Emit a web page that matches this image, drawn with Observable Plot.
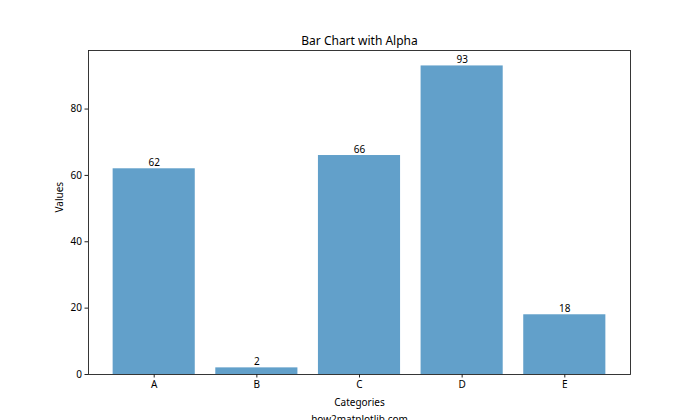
<!DOCTYPE html>
<html>
<head>
<meta charset="utf-8">
<script src="https://cdn.jsdelivr.net/npm/d3@7"></script>
<script src="https://cdn.jsdelivr.net/npm/@observablehq/plot@0.6"></script>
<style>
  html, body { margin: 0; padding: 0; background: white; overflow: hidden; }
</style>
</head>
<body>
<div id="chart"></div>
<script>
const categories = ["A", "B", "C", "D", "E"];
const values = [62, 2, 66, 93, 18];
const yTicks = [0, 20, 40, 60, 80];
const title = "Bar Chart with Alpha";
const xLabel = "Categories";
const yLabel = "Values";
const watermark = "how2matplotlib.com";

const data = categories.map((c, i) => ({cat: c, val: values[i]}));
const font = "'Noto Sans', sans-serif";

const chart = Plot.plot({
  width: 700,
  height: 420,
  marginLeft: 88,
  marginRight: 70,
  marginTop: 50,
  marginBottom: 46,
  style: {fontFamily: font, fontSize: "10px", background: "white", color: "black"},
  x: {domain: categories, paddingInner: 0.2, paddingOuter: 0.24, round: false, label: null},
  y: {domain: [0, d3.max(values) * 1.05], label: null},
  marks: [
    Plot.barY(data, {x: "cat", y: "val", fill: "#1f77b4", fillOpacity: 0.7}),
    Plot.frame({stroke: "#222", strokeWidth: 0.9}),
    Plot.axisX({tickSize: 3.5, tickPadding: 3, fontSize: 10, stroke: "#222", label: null}),
    Plot.axisY({ticks: yTicks, tickSize: 3.5, tickPadding: 3, fontSize: 10, stroke: "#222", label: null}),
    Plot.text(data, {x: "cat", y: "val", text: d => String(d.val), dy: -3, lineAnchor: "bottom", fontSize: 10, fill: "black"}),
    Plot.text([title], {frameAnchor: "top", lineAnchor: "middle", dy: -9, fontSize: 12, fill: "black"}),
    Plot.text([yLabel], {frameAnchor: "left", lineAnchor: "middle", dx: -29, rotate: -90, fontSize: 10, fill: "black"}),
    Plot.text([xLabel], {frameAnchor: "bottom", lineAnchor: "middle", dy: 28, fontSize: 10, fill: "black"}),
    Plot.text([watermark], {frameAnchor: "bottom", lineAnchor: "top", dy: 41, fontSize: 10, fill: "black"})
  ]
});
document.getElementById("chart").appendChild(chart);
</script>
</body>
</html>
